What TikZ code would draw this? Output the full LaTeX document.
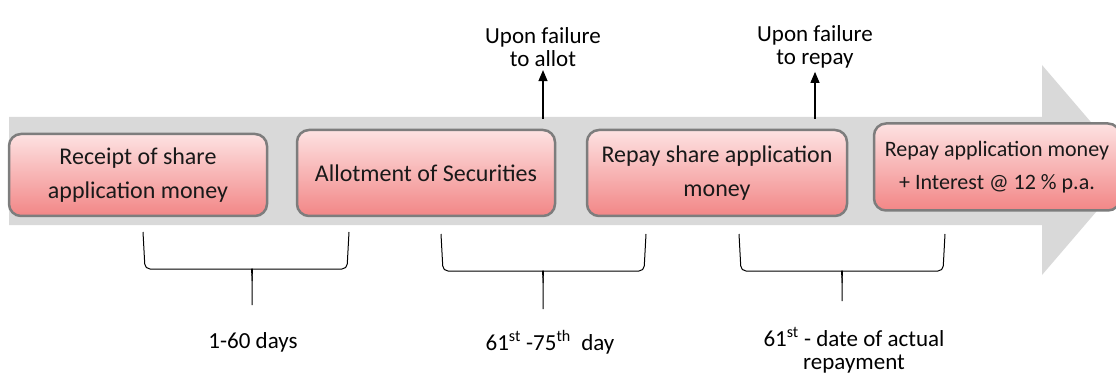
\documentclass[tikz,border=0pt]{standalone}
\usepackage{fontspec}
\setmainfont{Carlito}
\usetikzlibrary{arrows.meta,positioning}
\definecolor{bargray}{RGB}{217,217,217}
\definecolor{boxedge}{RGB}{125,125,125}
\definecolor{pinktop}{RGB}{253,226,226}
\definecolor{pinkbot}{RGB}{242,134,134}

\begin{document}
\begin{tikzpicture}[
  stage/.style={rectangle, rounded corners=12pt, draw=boxedge, line width=2.5pt,
    top color=pinktop, bottom color=pinkbot, align=center, inner sep=4pt,
    font=\fontsize{24}{34}\selectfont, text=black!90},
  note/.style={align=center, font=\fontsize{23}{23}\selectfont},
  bracket/.style={line width=1pt, rounded corners=5pt},
  >={Triangle[width=9pt,length=11pt]}, x=1pt, y=-1pt
]
\useasboundingbox (0,0) rectangle (1116,374);
\clip (0,0) rectangle (1116,374);

% timeline arrow
\fill[bargray] (9,117) -- (1042,117) -- (1042,65) -- (1132,170)
  -- (1042,275) -- (1042,225) -- (9,225) -- cycle;

\node[stage, minimum width=258pt, minimum height=82pt] (receipt) at (138,175)
  {Receipt of share\\application money};
\node[stage, minimum width=258pt, minimum height=86pt] (allot) at (426,173)
  {Allotment of Securities};
\node[stage, minimum width=260pt, minimum height=86pt] (repay) at (717,173)
  {Repay share application\\money};
\node[stage, minimum width=246pt, minimum height=87pt, font=\fontsize{22}{33}\selectfont]
  (interest) at (997,167) {Repay application money\\+ Interest @ 12 \% p.a.};

\node[note] (failallot) at (543,47) {Upon failure\\to allot};
\node[note] (failrepay) at (815,47) {Upon failure\\to repay};
\coordinate (outallot) at (543,119);
\coordinate (outrepay) at (815,119);
\draw[->, line width=1.2pt] (outallot) -- (failallot.south);
\draw[->, line width=1.2pt] (outrepay) -- (failrepay.south);

% periods
\draw[bracket] (143,232) -- (145,269) -- (247,269) .. controls (251,269) and (252,273) .. (252,281) -- (252,305);
\draw[bracket] (349,232) -- (347,269) -- (257,269) .. controls (253,269) and (252,273) .. (252,281);
\draw[bracket] (441,234) -- (443,271) -- (538,271) .. controls (542,271) and (543,275) .. (543,283) -- (543,309);
\draw[bracket] (646,234) -- (644,271) -- (548,271) .. controls (544,271) and (543,275) .. (543,283);
\draw[bracket] (739,234) -- (741,271) -- (837,271) .. controls (841,271) and (842,275) .. (842,283) -- (842,301);
\draw[bracket] (945,234) -- (943,271) -- (847,271) .. controls (843,271) and (842,275) .. (842,283);

\node[note] (days1) at (253,342) {1-60 days};
\node[note] (days2) at (550,342) {61\textsuperscript{st} -75\textsuperscript{th}\ \ day};
\node[note] (days3) at (854,350) {61\textsuperscript{st} - date of actual\\repayment};

\end{tikzpicture}
\end{document}
